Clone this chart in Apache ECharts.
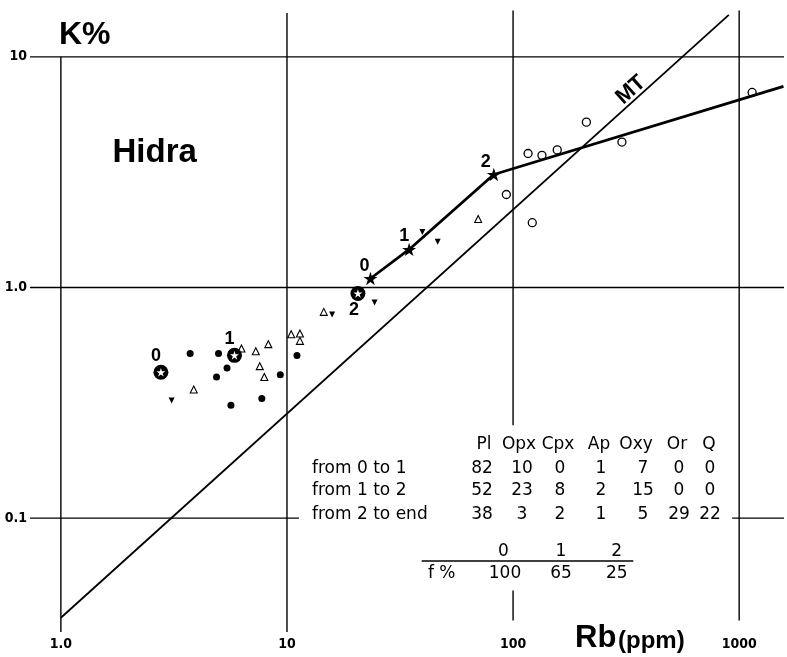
<!DOCTYPE html>
<html><head><meta charset="utf-8">
<script src="https://cdn.jsdelivr.net/npm/echarts@6/dist/echarts.min.js"></script>
<style>html,body{margin:0;padding:0;background:#fff}#chart{width:787px;height:657px}</style>
</head><body><div id="chart"></div>
<script>
// ---------- data (Rb ppm, K %) ----------
const xTickValues = [1, 10, 100, 1000];
const xTickLabels = ['1.0', '10', '100', '1000'];
const yTickValues = [0.1, 1, 10];
const yTickLabels = ['0.1', '1.0', '10'];

const filledDots = [[3.73,0.517],[4.98,0.517],[5.43,0.448],[4.88,0.409],[9.34,0.419],[5.65,0.309],[7.74,0.330],[11.07,0.507]];
const openTriangles = [[6.29,0.544],[7.28,0.529],[8.27,0.568],[7.58,0.456],[7.94,0.409],[3.87,0.361],[10.44,0.627],[11.41,0.632],[11.41,0.587],[14.55,0.784],[70.1,1.98]];
const filledDownTriangles = [[3.09,0.324],[15.84,0.764],[24.4,0.861],[39.7,1.74],[46.4,1.58]];
const openCircles = [[116.5,3.81],[134.2,3.74],[156.8,3.95],[211,5.21],[303,4.27],[93.4,2.53],[121.6,1.91],[1141,7.01]];

const stageNames = ['0', '1', '2'];
const modelStars = [[23.4,1.094],[34.7,1.462],[82.2,3.09]];
const modelLineEnd = [1570, 7.45];
const startStars = [[2.77,0.429],[5.86,0.508],[20.6,0.942]];
const mtLine = [[1.0,0.037],[900,15.2]];

const tableHeader = ['Pl','Opx','Cpx','Ap','Oxy','Or','Q'];
const tableRowNames = ['from 0 to 1','from 1 to 2','from 2 to end'];
const tableValues = [[82,10,0,1,7,0,0],[52,23,8,2,15,0,0],[38,3,2,1,5,29,22]];
const fLabel = 'f %';
const fValues = [100, 65, 25];

// ---------- layout ----------
const X_MIN = 0.7302, X_MAX = 1578.6, Y_MIN = 0.0321, Y_MAX = 15.96;
const frameSegments = [
  [[1,10],[1,Y_MIN]],
  [[10,15.5],[10,Y_MIN]],
  [[100,15.9],[100,0.2527]],
  [[100,0.0486],[100,0.036]],
  [[1000,15.9],[1000,0.036]],
  [[X_MIN,10],[X_MAX,10]],
  [[X_MIN,1],[X_MAX,1]],
  [[X_MIN,0.1],[11.29,0.1]],
  [[931,0.1],[X_MAX,0.1]]
];
const modelLabelOffsets = [[-6,-12],[-5,-13],[-8,-12]];
const startLabelOffsets = [[-5,-16],[-5,-16],[-4,17]];
const headerX = [484,519,558,599,636,677,709];
const valueX = [482,522,560,601,643,679,710];
const rowY = [468.3,491,515];
const stageX = [503.3,561,616.7];

const STAR = 'path://M50,0L61.23,34.55L97.55,34.55L68.17,55.9L79.39,90.45L50,69.1L20.61,90.45L31.83,55.9L2.45,34.55L38.77,34.55Z';
const INK = '#000';
const BOLD = '"Liberation Sans", Arial, Helvetica, sans-serif';
const NARROW = '"Liberation Sans Narrow", "DejaVu Sans Condensed", "Liberation Sans", sans-serif';
const TBL = '17px "DejaVu Sans", sans-serif';

function tickFmt(vals, labels) {
  return function (v) {
    for (let i = 0; i < vals.length; i++) {
      if (Math.abs(Math.log10(v) - Math.log10(vals[i])) < 1e-6) return labels[i];
    }
    return '';
  };
}

const series = [];
frameSegments.forEach(function (seg) {
  series.push({type:'line', data:seg, symbol:'none', silent:true, clip:false,
    lineStyle:{color:INK, width:1.4}});
});
series.push({type:'line', data:mtLine, symbol:'none', silent:true, clip:false,
  lineStyle:{color:INK, width:1.8}});
series.push({type:'line', data:modelStars.concat([modelLineEnd]), symbol:'none', silent:true, clip:false,
  lineStyle:{color:INK, width:2.8}});
series.push({type:'scatter', data:openCircles, symbol:'circle', symbolSize:8,
  itemStyle:{color:'#fff', borderColor:INK, borderWidth:1.3, opacity:1}});
series.push({type:'scatter', data:filledDots, symbol:'circle', symbolSize:7, itemStyle:{color:INK, opacity:1}});
series.push({type:'scatter', data:openTriangles, symbol:'triangle', symbolSize:7,
  itemStyle:{color:'#fff', borderColor:INK, borderWidth:1.1, opacity:1}});
series.push({type:'scatter', data:filledDownTriangles, symbol:'triangle', symbolRotate:180, symbolSize:6,
  itemStyle:{color:INK, opacity:1}});
series.push({type:'scatter', symbol:STAR, symbolSize:14, symbolKeepAspect:true, itemStyle:{color:INK, opacity:1},
  data: modelStars.map(function (p, i) {
    return {value:p, label:{show:true, formatter:stageNames[i], position:'inside', offset:modelLabelOffsets[i],
      color:INK, opacity:1, fontFamily:BOLD, fontWeight:'bold', fontSize:18}};
  })});
series.push({type:'scatter', symbol:'circle', symbolSize:15, itemStyle:{color:INK, opacity:1},
  data: startStars.map(function (p, i) {
    return {value:p, label:{show:true, formatter:stageNames[i], position:'inside', offset:startLabelOffsets[i],
      color:INK, opacity:1, fontFamily:BOLD, fontWeight:'bold', fontSize:18}};
  })});
series.push({type:'scatter', symbol:STAR, symbolSize:9, symbolKeepAspect:true, itemStyle:{color:'#fff', opacity:1},
  data:startStars});

const graphic = [
  {type:'text', x:59, y:35, style:{text:'K%', font:'bold 32px ' + BOLD, fill:INK, align:'left', verticalAlign:'middle'}},
  {type:'text', x:112.5, y:153, style:{text:'Hidra', font:'bold 33px ' + BOLD, fill:INK, align:'left', verticalAlign:'middle'}},
  {type:'text', x:631, y:90, rotation:0.731, style:{text:'MT', font:'bold 22px ' + BOLD, fill:INK, align:'center', verticalAlign:'middle'}},
  {type:'text', x:575, y:638.8, style:{text:'Rb', font:'bold 31px ' + BOLD, fill:INK, align:'left', verticalAlign:'middle'}},
  {type:'text', x:618, y:641.2, style:{text:'(ppm)', font:'bold 24px ' + BOLD, fill:INK, align:'left', verticalAlign:'middle'}},
  {type:'line', shape:{x1:421.7, y1:561, x2:633.3, y2:561}, style:{stroke:INK, lineWidth:1.5}}
];
tableHeader.forEach(function (h, i) {
  graphic.push({type:'text', x:headerX[i], y:445, style:{text:h, font:TBL, fill:INK, align:'center', verticalAlign:'middle'}});
});
tableRowNames.forEach(function (r, j) {
  graphic.push({type:'text', x:312, y:rowY[j], style:{text:r, font:TBL, fill:INK, align:'left', verticalAlign:'middle'}});
  tableValues[j].forEach(function (v, i) {
    graphic.push({type:'text', x:valueX[i], y:rowY[j], style:{text:String(v), font:TBL, fill:INK, align:'center', verticalAlign:'middle'}});
  });
});
stageNames.forEach(function (s, i) {
  graphic.push({type:'text', x:stageX[i], y:551.7, style:{text:s, font:TBL, fill:INK, align:'center', verticalAlign:'middle'}});
  graphic.push({type:'text', x:stageX[i] + (i === 0 ? 1.7 : 0), y:573.3, style:{text:String(fValues[i]), font:TBL, fill:INK, align:'center', verticalAlign:'middle'}});
});
graphic.push({type:'text', x:441.7, y:573.3, style:{text:fLabel, font:TBL, fill:INK, align:'center', verticalAlign:'middle'}});

const chart = echarts.init(document.getElementById('chart'), null, {renderer:'canvas'});
chart.setOption({
  animation:false,
  backgroundColor:'#fff',
  grid:{left:30, right:0, top:10, bottom:25, containLabel:false},
  xAxis:{type:'log', logBase:10, min:X_MIN, max:X_MAX,
    axisLine:{show:false}, axisTick:{show:false}, splitLine:{show:false},
    axisLabel:{formatter:tickFmt(xTickValues, xTickLabels), margin:5, fontSize:14, fontWeight:'bold',
      fontFamily:NARROW, color:INK, showMinLabel:true, showMaxLabel:true}},
  yAxis:{type:'log', logBase:10, min:Y_MIN, max:Y_MAX,
    axisLine:{show:false}, axisTick:{show:false}, splitLine:{show:false},
    axisLabel:{formatter:tickFmt(yTickValues, yTickLabels), margin:3, fontSize:14, fontWeight:'bold',
      fontFamily:NARROW, color:INK}},
  series:series,
  graphic:graphic
});
</script>
</body></html>
